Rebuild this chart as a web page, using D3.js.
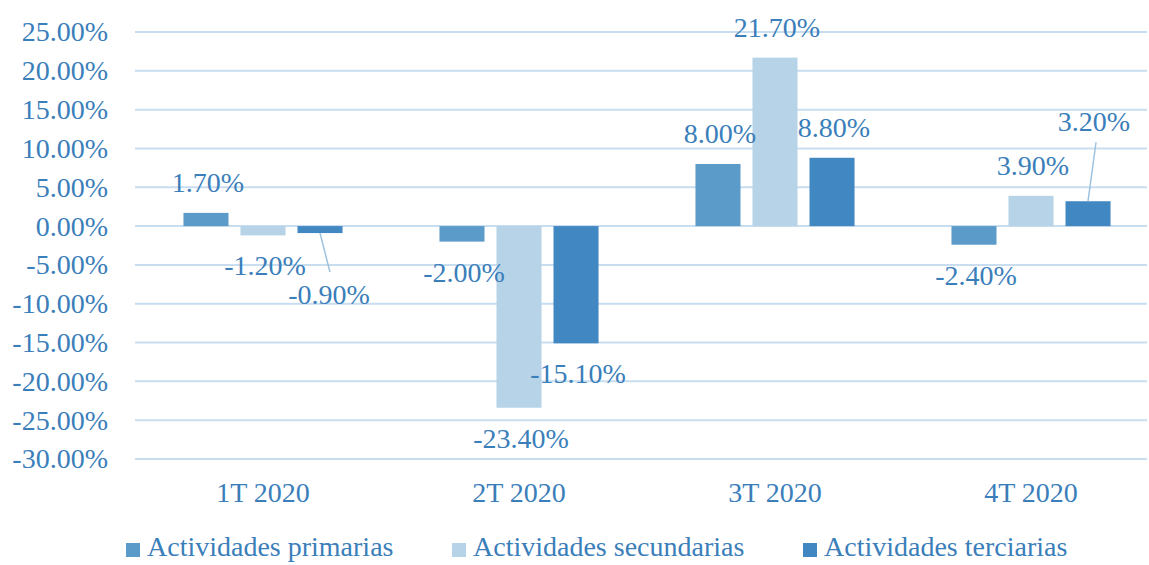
<!DOCTYPE html>
<html>
<head>
<meta charset="utf-8">
<script src="https://cdn.jsdelivr.net/npm/d3@7"></script>
<style>
  body { margin: 0; background: #fff; }
  svg text { font-family: "Liberation Serif", "Times New Roman", serif; }
</style>
</head>
<body>
<div id="chart"></div>
<script>
// Datos

var categories = ["1T 2020", "2T 2020", "3T 2020", "4T 2020"];
var seriesNames = ["Actividades primarias", "Actividades secundarias", "Actividades terciarias"];
var primarias = [1.7, -2.0, 8.0, -2.4];
var secundarias = [-1.2, -23.4, 21.7, 3.9];
var terciarias = [-0.9, -15.1, 8.8, 3.2];
var yTicks = [25, 20, 15, 10, 5, 0, -5, -10, -15, -20, -25, -30];

var colors = ["#5b9bc9", "#b7d3e8", "#4187c1"];
var textColor = "#3a7eba";
var gridColor = "#c8ddef";
var values = [primarias, secundarias, terciarias];

// formato con guion normal
var pct = d3.formatLocale({decimal: ".", thousands: ",", grouping: [3], currency: ["", ""], minus: "-"})
    .format(".2f");

// Lienzo

var width = 1149;
var height = 565;
var margin = {top: 32, left: 135, right: 2, bottom: 106};

var svg = d3.select("#chart").append("svg")
    .attr("width", width)
    .attr("height", height);

var y = d3.scaleLinear()
    .domain([-30, 25])
    .range([height - margin.bottom, margin.top]);

var x0 = d3.scaleBand()
    .domain(categories)
    .range([margin.left, margin.left + 256 * categories.length]);

var x1 = d3.scaleBand()
    .domain(seriesNames)
    .range([0, x0.bandwidth()])
    .paddingInner(0.21)
    .paddingOuter(0.85);

// Lineas de cuadricula
svg.append("g")
    .attr("id", "grid")
    .selectAll("line")
    .data(yTicks)
    .join("line")
    .attr("x1", margin.left)
    .attr("x2", width - margin.right)
    .attr("y1", d => y(d))
    .attr("y2", d => y(d))
    .attr("stroke", gridColor)
    .attr("stroke-width", 2);

// Eje Y
var yAxis = svg.append("g")
    .attr("transform", "translate(108,0)")
    .call(d3.axisLeft(y).tickValues(yTicks).tickSize(0).tickPadding(0)
        .tickFormat(d => pct(d) + "%"));
yAxis.select(".domain").remove();
yAxis.selectAll("text")
    .attr("fill", textColor)
    .style("font-size", "28px")
    .style("font-family", "'Liberation Serif', serif");

// Barras
var groups = svg.append("g")
    .attr("id", "bars")
    .selectAll("g")
    .data(seriesNames)
    .join("g")
    .attr("fill", (d, i) => colors[i]);

groups.selectAll("rect")
    .data((s, si) => categories.map((c, ci) => ({cat: c, serie: s, si: si, v: values[si][ci]})))
    .join("rect")
    .attr("x", d => x0(d.cat) + x1(d.serie))
    .attr("width", x1.bandwidth())
    .attr("y", d => y(Math.max(0, d.v)))
    .attr("height", d => Math.abs(y(d.v) - y(0)));

// Etiquetas de datos (dos con linea guia)
var nudge = {"0-2": [9, 31], "3-2": [6, -49]};
var labels = [];
values.forEach(function(arr, si) {
    arr.forEach(function(v, ci) {
        var cx = x0(categories[ci]) + x1(seriesNames[si]) + x1.bandwidth() / 2;
        var by = v >= 0 ? y(v) - 21 : y(v) + 40;
        var n = nudge[ci + "-" + si];
        labels.push({v: v, bx: cx, x: cx + (n ? n[0] : 2), y: by + (n ? n[1] : 0), lead: !!n});
    });
});

svg.append("g")
    .attr("id", "leaders")
    .selectAll("line")
    .data(labels.filter(d => d.lead))
    .join("line")
    .attr("x1", d => d.bx)
    .attr("y1", d => y(d.v))
    .attr("x2", d => d.v < 0 ? d.x + 1 : d.x + 2)
    .attr("y2", d => d.v < 0 ? d.y - 32 : d.y + 11)
    .attr("stroke", "#9cc2e0")
    .attr("stroke-width", 1.5);

svg.append("g")
    .attr("id", "datalabels")
    .selectAll("text")
    .data(labels)
    .join("text")
    .attr("x", d => d.x)
    .attr("y", d => d.y)
    .attr("text-anchor", "middle")
    .attr("fill", textColor)
    .style("font-size", "28px")
    .text(d => pct(d.v) + "%");

// Eje X (etiquetas)
svg.append("g")
    .attr("id", "xlabels")
    .selectAll("text")
    .data(categories)
    .join("text")
    .attr("x", d => x0(d) + x0.bandwidth() / 2)
    .attr("y", 502)
    .attr("text-anchor", "middle")
    .attr("fill", textColor)
    .style("font-size", "28px")
    .text(d => d);

// Leyenda
var legendX = [126, 452, 803];
var legend = svg.append("g")
    .attr("id", "legend")
    .selectAll("g")
    .data(seriesNames)
    .join("g")
    .attr("transform", (d, i) => "translate(" + legendX[i] + ",543)");

legend.append("rect")
    .attr("width", 14)
    .attr("height", 14)
    .attr("fill", (d, i) => colors[i]);

legend.append("text")
    .attr("x", 21)
    .attr("y", 13)
    .attr("fill", textColor)
    .style("font-size", "28px")
    .text(d => d);
</script>
</body>
</html>
